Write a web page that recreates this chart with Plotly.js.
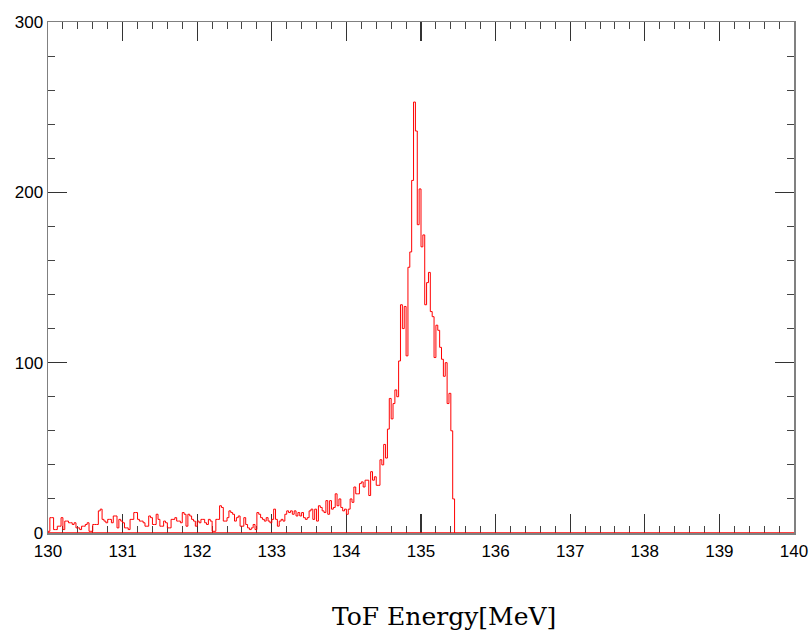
<!DOCTYPE html>
<html>
<head>
<meta charset="utf-8">
<script src="https://cdn.plot.ly/plotly-3.0.1.min.js"></script>
<style>
html,body{margin:0;padding:0;background:#fff;}
#chart{width:810px;height:632px;}
</style>
</head>
<body>
<div id="chart"></div>
<script>
// Histogram: ToF energy, bins of 0.025 MeV starting at 130 MeV
const binStart = 130;
const binWidth = 0.025;

// counts for 130.000 - 133.900 MeV
const countsTail = [
  1,9,9,2,2,4,4,9,2,7,
  7,6,6,5,6,3,3,2,4,4,
  5,6,1,1,5,5,5,13,14,8,
  7,6,8,8,6,10,10,3,8,7,
  6,3,3,2,8,8,12,12,8,7,
  7,6,4,4,10,9,5,5,11,8,
  4,4,7,6,3,3,8,8,9,7,
  7,6,12,11,4,11,10,8,7,4,
  7,6,8,8,6,5,8,7,1,1,
  8,8,16,15,7,7,9,13,12,11,
  7,9,10,4,4,9,5,3,2,3,
  5,2,12,11,9,8,7,9,7,6,
  8,14,8,4,7,8,7,11,13,12,
  13,11,13,10,12,10,12,9,8,9,
  13,14,8,14,7,16,15,13,12,19,
  11,19,14,15,23,16
];

// counts for 133.900 - 135.450 MeV
const countsPeak = [
  20,15,13,14,11,14,20,18,27,23,
  23,29,30,27,31,31,22,36,31,33,
  28,28,43,40,52,44,61,79,67,76,
  84,80,101,134,120,133,104,156,165,207,
  253,236,181,202,168,175,134,147,153,130,
  127,103,122,119,109,102,92,100,76,82,
  60,20
];

const xTicks = [130,131,132,133,134,135,136,137,138,139,140];
const yTicks = [0,100,200,300];
const xTitle = 'ToF Energy[MeV]';

const counts = countsTail.concat(countsPeak);
const xs = [binStart];
const ys = [0];
counts.forEach((c, i) => { xs.push(binStart + i * binWidth); ys.push(c); });
xs.push(binStart + counts.length * binWidth);
ys.push(0);

const trace = {
  type: 'scatter',
  mode: 'lines',
  x: xs,
  y: ys,
  line: {shape: 'hv', color: '#ff0000', width: 1},
  cliponaxis: false,
  hoverinfo: 'skip',
  showlegend: false
};

const axisCommon = {
  showgrid: false,
  zeroline: false,
  showline: true,
  linecolor: '#808080',
  linewidth: 1.5,
  mirror: 'allticks',
  ticks: 'inside',
  ticklen: 19,
  tickwidth: 1.2,
  tickcolor: '#333333',
  layer: 'below traces',
  tickfont: {family: 'Liberation Sans, Arial, sans-serif', size: 17, color: '#000'}
};

const layout = {
  width: 810,
  height: 632,
  margin: {l: 48, r: 16, t: 22, b: 99},
  paper_bgcolor: '#ffffff',
  plot_bgcolor: '#ffffff',
  xaxis: Object.assign({}, axisCommon, {
    range: [130, 140],
    tickvals: xTicks,
    ticktext: xTicks.map(String),
    ticklabelstandoff: 2,
    minor: {dtick: 0.2, ticks: 'inside', ticklen: 7, tickwidth: 1, tickcolor: '#444444', showgrid: false}
  }),
  yaxis: Object.assign({}, axisCommon, {
    range: [0, 300],
    tickvals: yTicks,
    ticktext: yTicks.map(String),
    minor: {dtick: 20, ticks: 'inside', ticklen: 7, tickwidth: 1, tickcolor: '#444444', showgrid: false}
  }),
  annotations: [{
    text: xTitle, xref: 'paper', yref: 'paper',
    x: 0.531, y: -0.131, xanchor: 'center', yanchor: 'top', showarrow: false,
    font: {family: 'DejaVu Serif, Liberation Serif, serif', size: 25, color: '#000'}
  }],
  shapes: [{
    type: 'line', xref: 'paper', x0: 0, x1: 1, yref: 'y', y0: 0, y1: 0,
    line: {color: '#ff0000', width: 1.5}, layer: 'above'
  }]
};

Plotly.newPlot('chart', [trace], layout, {staticPlot: true, displayModeBar: false});
</script>
</body>
</html>
